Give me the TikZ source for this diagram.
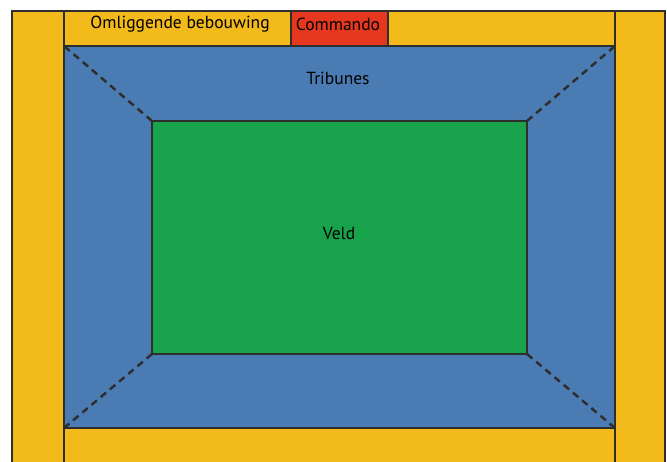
\documentclass[tikz,border=0pt]{standalone}
\usepackage{fontspec}
\setmainfont{PT Sans}
\definecolor{geel}{HTML}{F3BA1C}
\definecolor{blauw}{HTML}{4A7CB3}
\definecolor{groen}{HTML}{17A24B}
\definecolor{rood}{HTML}{E5381E}
\definecolor{rand}{HTML}{2E2E2E}
\tikzset{
  vlak/.style={draw=rand, line width=1.8pt, inner sep=0pt, outer sep=0pt, anchor=north west},
  lbl/.style={font=\fontsize{17.5}{20}\selectfont, text=black},
  diag/.style={draw=rand, line width=2.5pt, dash pattern=on 7pt off 5pt},
}
\begin{document}
\begin{tikzpicture}[x=1pt,y=-1pt]
\useasboundingbox (0,0) rectangle (667,461);
\fill[white] (0,0) rectangle (667,461);
\clip (0,0) rectangle (667,461);
% outer frame
\node[vlak, fill=geel, minimum width=653pt, minimum height=470pt] (kader) at (12,11) {};
% left and right columns
\node[vlak, fill=geel, minimum width=52pt, minimum height=470pt] (links) at (12,11) {};
\node[vlak, fill=geel, minimum width=50pt, minimum height=470pt] (rechts) at (615,11) {};
% top band
\node[vlak, fill=geel, minimum width=551pt, minimum height=35pt] (boven) at (64,11) {};
\node[vlak, fill=rood, minimum width=97pt, minimum height=35pt] (commando) at (291,11) {};
% bottom band
\node[vlak, fill=geel, minimum width=551pt, minimum height=50pt] (onder) at (64,428) {};
% tribunes
\node[vlak, fill=blauw, minimum width=551pt, minimum height=382pt] (tribunes) at (64,46) {};
% veld
\node[vlak, fill=groen, minimum width=375pt, minimum height=233pt] (veld) at (152,121) {};
% diagonals
\draw[diag] (veld.north west) -- (tribunes.north west);
\draw[diag] (veld.north east) -- (tribunes.north east);
\draw[diag] (veld.south west) -- (tribunes.south west);
\draw[diag] (veld.south east) -- (tribunes.south east);
% labels
\node[lbl] (t1) at (180,24) {Omliggende bebouwing};
\node[lbl] (t2) at (338,24) {Commando};
\node[lbl] (t3) at (338,78) {Tribunes};
\node[lbl] (t4) at (339,233) {Veld};
\end{tikzpicture}
\end{document}
